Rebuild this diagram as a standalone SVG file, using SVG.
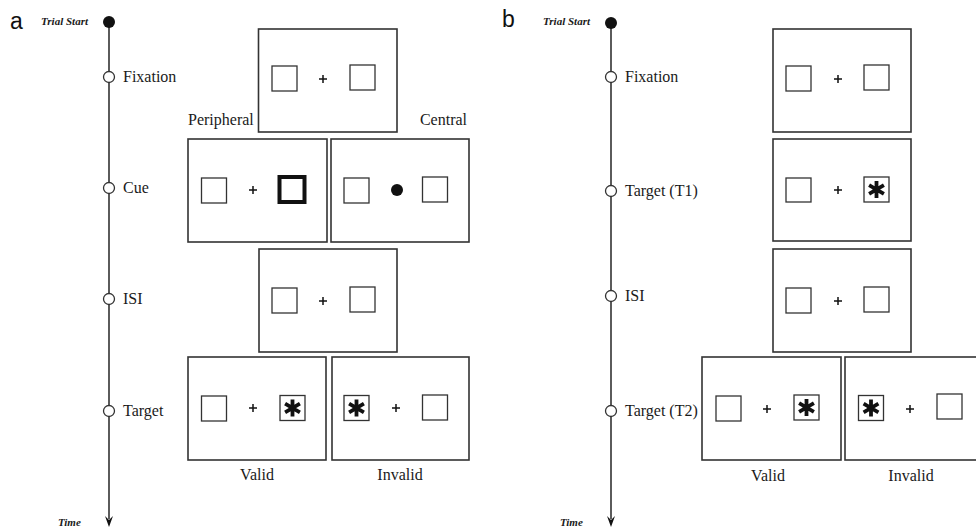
<svg xmlns="http://www.w3.org/2000/svg" width="976" height="530" viewBox="0 0 976 530">
<style>
.lbl{font-family:"Liberation Serif","Times New Roman",serif;font-size:16px;fill:#1a1a1a}
.it{font-family:"Liberation Serif","Times New Roman",serif;font-size:11px;font-style:italic;font-weight:bold;fill:#1a1a1a}
.pl{font-family:"Liberation Sans",Arial,sans-serif;font-size:23px;fill:#111}
.box{fill:#fff;stroke:#333;stroke-width:1.6}
.sq{fill:#fff;stroke:#333;stroke-width:1.3}
.thick{fill:#fff;stroke:#111;stroke-width:4}
.tl{stroke:#333;stroke-width:1.6;fill:none}
.oc{fill:#fff;stroke:#333;stroke-width:1.3}
.fc{fill:#111}
.plus{stroke:#111;stroke-width:1.5}
.ast{stroke:#111;stroke-width:3.8;stroke-linecap:butt}
</style>
<defs>
<g id="plus"><path class="plus" d="M-4,0H4M0,-4V4"/></g>
<g id="ast"><path class="ast" d="M0,-8.5V8.5M-7.4,-4.3L7.4,4.3M-7.4,4.3L7.4,-4.3"/></g>
</defs>

<g id="connectors">
<line class="tl" x1="109" y1="22" x2="109" y2="519"/>
<path d="M105,516L109,527L113,516L109,520Z" fill="#111"/>
<line class="tl" x1="611" y1="23" x2="611" y2="519"/>
<path d="M607,516L611,527L615,516L611,520Z" fill="#111"/>
</g>

<!-- Panel a -->
<g id="panel-a-label"><text class="pl" x="10" y="29">a</text></g>
<g id="a-trial-start"><circle class="fc" cx="109" cy="22" r="6"/><text class="it" x="41" y="25">Trial Start</text></g>
<g id="a-fixation-node"><circle class="oc" cx="109" cy="77" r="5.5"/><text class="lbl" x="123" y="82">Fixation</text></g>
<g id="a-cue-node"><circle class="oc" cx="109" cy="188" r="5.5"/><text class="lbl" x="123" y="193">Cue</text></g>
<g id="a-isi-node"><circle class="oc" cx="109" cy="299" r="5.5"/><text class="lbl" x="123" y="304">ISI</text></g>
<g id="a-target-node"><circle class="oc" cx="109" cy="411" r="5.5"/><text class="lbl" x="123" y="416">Target</text></g>
<g id="a-time"><text class="it" x="58" y="526">Time</text></g>

<g id="a-fixation-box">
<rect class="box" x="258.5" y="29" width="138.5" height="103"/>
<rect class="sq" x="272" y="66" width="25" height="25"/>
<use href="#plus" x="323" y="79"/>
<rect class="sq" x="350" y="65" width="25" height="25"/>
</g>
<g id="a-peripheral-label"><text class="lbl" x="188" y="125">Peripheral</text></g>
<g id="a-central-label"><text class="lbl" x="467" y="125" text-anchor="end">Central</text></g>
<g id="a-cue-peripheral">
<rect class="box" x="188" y="139" width="139" height="103"/>
<rect class="sq" x="201.5" y="178" width="25" height="25"/>
<use href="#plus" x="253" y="190"/>
<rect class="thick" x="279.5" y="177" width="25" height="25"/>
</g>
<g id="a-cue-central">
<rect class="box" x="331" y="139" width="138" height="103"/>
<rect class="sq" x="344" y="178" width="25" height="25"/>
<circle class="fc" cx="397" cy="190" r="6"/>
<rect class="sq" x="422.5" y="177" width="25" height="25"/>
</g>
<g id="a-isi-box">
<rect class="box" x="259" y="249" width="138" height="103"/>
<rect class="sq" x="272" y="288" width="25" height="25"/>
<use href="#plus" x="323" y="301"/>
<rect class="sq" x="350" y="287" width="25" height="25"/>
</g>
<g id="a-target-valid">
<rect class="box" x="188" y="357" width="138" height="103"/>
<rect class="sq" x="201.5" y="396" width="25" height="25"/>
<use href="#plus" x="253" y="408"/>
<rect class="sq" x="280" y="395.5" width="25" height="25"/>
<use href="#ast" x="292.5" y="408"/>
</g>
<g id="a-target-invalid">
<rect class="box" x="332" y="357" width="137" height="103"/>
<rect class="sq" x="344" y="395.5" width="25" height="25"/>
<use href="#ast" x="356.5" y="408"/>
<use href="#plus" x="396" y="408"/>
<rect class="sq" x="422.5" y="395" width="25" height="25"/>
</g>
<g id="a-valid-label"><text class="lbl" x="257" y="480" text-anchor="middle">Valid</text></g>
<g id="a-invalid-label"><text class="lbl" x="400" y="480" text-anchor="middle">Invalid</text></g>

<!-- Panel b -->
<g id="panel-b-label"><text class="pl" x="502" y="27">b</text></g>
<g id="b-trial-start"><circle class="fc" cx="611" cy="23" r="6"/><text class="it" x="543" y="25">Trial Start</text></g>
<g id="b-fixation-node"><circle class="oc" cx="611" cy="77" r="5.5"/><text class="lbl" x="625" y="82">Fixation</text></g>
<g id="b-t1-node"><circle class="oc" cx="611" cy="191" r="5.5"/><text class="lbl" x="625" y="196">Target (T1)</text></g>
<g id="b-isi-node"><circle class="oc" cx="611" cy="296" r="5.5"/><text class="lbl" x="625" y="301">ISI</text></g>
<g id="b-t2-node"><circle class="oc" cx="611" cy="411" r="5.5"/><text class="lbl" x="625" y="416">Target (T2)</text></g>
<g id="b-time"><text class="it" x="560" y="526">Time</text></g>

<g id="b-fixation-box">
<rect class="box" x="773" y="29" width="138" height="103"/>
<rect class="sq" x="786" y="66" width="25" height="25"/>
<use href="#plus" x="838" y="79"/>
<rect class="sq" x="864" y="65" width="25" height="25"/>
</g>
<g id="b-t1-box">
<rect class="box" x="773" y="139" width="138" height="102"/>
<rect class="sq" x="786" y="178" width="25" height="24"/>
<use href="#plus" x="838" y="190"/>
<rect class="sq" x="864" y="177" width="25" height="25"/>
<use href="#ast" x="876.5" y="189.5"/>
</g>
<g id="b-isi-box">
<rect class="box" x="773" y="249" width="138" height="103"/>
<rect class="sq" x="786" y="288" width="25" height="25"/>
<use href="#plus" x="838" y="301"/>
<rect class="sq" x="864" y="287" width="25" height="25"/>
</g>
<g id="b-target-valid">
<rect class="box" x="702" y="357" width="139" height="103"/>
<rect class="sq" x="716" y="396" width="25" height="25"/>
<use href="#plus" x="767" y="409"/>
<rect class="sq" x="794" y="395" width="25" height="25"/>
<use href="#ast" x="806.5" y="407.5"/>
</g>
<g id="b-target-invalid">
<rect class="box" x="845" y="357" width="140" height="103"/>
<rect class="sq" x="858.5" y="395.5" width="25" height="25"/>
<use href="#ast" x="871" y="408"/>
<use href="#plus" x="910" y="409"/>
<rect class="sq" x="937" y="394" width="25" height="25"/>
</g>
<g id="b-valid-label"><text class="lbl" x="768" y="481" text-anchor="middle">Valid</text></g>
<g id="b-invalid-label"><text class="lbl" x="911" y="481" text-anchor="middle">Invalid</text></g>
</svg>
